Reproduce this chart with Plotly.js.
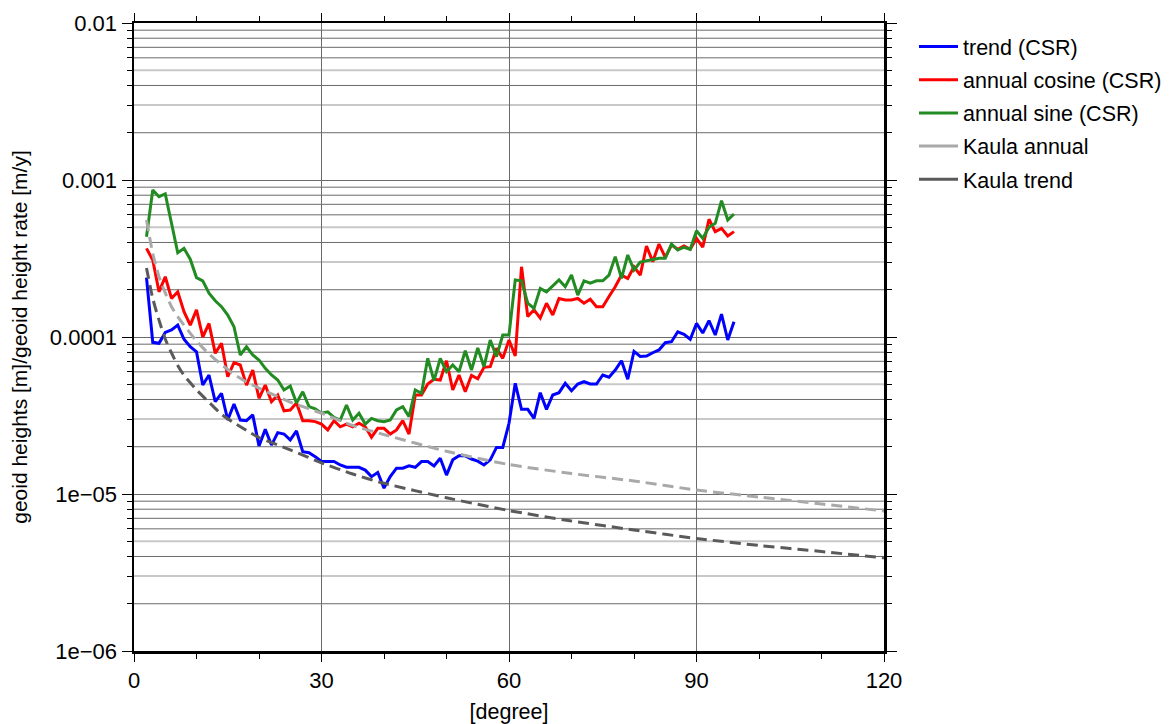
<!DOCTYPE html>
<html><head><meta charset="utf-8">
<script src="https://cdn.plot.ly/plotly-3.0.1.min.js"></script>
<style>html,body{margin:0;padding:0;background:#fff}#chart{width:1170px;height:724px}</style>
</head><body><div id="chart"></div>
<script>
const degree = [2,3,4,5,6,7,8,9,10,11,12,13,14,15,16,17,18,19,20,21,22,23,24,25,26,27,28,29,30,31,32,33,34,35,36,37,38,39,40,41,42,43,44,45,46,47,48,49,50,51,52,53,54,55,56,57,58,59,60,61,62,63,64,65,66,67,68,69,70,71,72,73,74,75,76,77,78,79,80,81,82,83,84,85,86,87,88,89,90,91,92,93,94,95,96];

const trendCSR = [2.39e-4,9.25e-5,9.12e-5,1.07e-4,1.11e-4,1.19e-4,9.67e-5,8.67e-5,8.06e-5,4.94e-5,
5.73e-5,3.87e-5,4.38e-5,2.96e-5,3.74e-5,2.96e-5,2.93e-5,3.19e-5,2.02e-5,2.58e-5,
2.05e-5,2.46e-5,2.41e-5,2.21e-5,2.52e-5,1.86e-5,1.83e-5,1.73e-5,1.61e-5,1.61e-5,
1.61e-5,1.53e-5,1.48e-5,1.48e-5,1.48e-5,1.42e-5,1.29e-5,1.37e-5,1.09e-5,1.29e-5,
1.46e-5,1.46e-5,1.51e-5,1.48e-5,1.61e-5,1.61e-5,1.51e-5,1.69e-5,1.32e-5,1.65e-5,
1.75e-5,1.75e-5,1.67e-5,1.62e-5,1.53e-5,1.65e-5,1.98e-5,1.98e-5,2.82e-5,5.07e-5,
3.46e-5,3.46e-5,3.03e-5,4.42e-5,3.46e-5,4.27e-5,4.42e-5,5.07e-5,4.55e-5,5.02e-5,
5.19e-5,5.02e-5,5.02e-5,5.73e-5,5.54e-5,6.16e-5,7.06e-5,5.38e-5,8.09e-5,7.51e-5,
7.57e-5,7.94e-5,8.27e-5,9.20e-5,9.33e-5,1.08e-4,1.04e-4,9.67e-5,1.22e-4,1.06e-4,
1.27e-4,1.03e-4,1.40e-4,9.57e-5,1.25e-4];

const annualCosineCSR = [3.67e-4,3.09e-4,1.94e-4,2.42e-4,1.76e-4,1.94e-4,1.45e-4,1.19e-4,1.49e-4,1.00e-4,
1.22e-4,7.87e-5,9.12e-5,5.59e-5,6.86e-5,6.63e-5,4.94e-5,6.16e-5,4.07e-5,4.94e-5,
3.87e-5,4.27e-5,3.39e-5,3.43e-5,3.80e-5,2.93e-5,2.93e-5,2.89e-5,2.79e-5,2.56e-5,
2.93e-5,2.68e-5,2.79e-5,2.68e-5,2.82e-5,2.68e-5,2.30e-5,2.62e-5,2.62e-5,2.41e-5,
2.56e-5,2.93e-5,2.41e-5,4.27e-5,4.27e-5,5.02e-5,5.38e-5,5.32e-5,7.06e-5,4.60e-5,
5.73e-5,4.48e-5,5.70e-5,5.42e-5,6.41e-5,6.47e-5,8.47e-5,7.31e-5,9.57e-5,7.57e-5,
2.80e-4,1.35e-4,1.49e-4,1.32e-4,1.64e-4,1.38e-4,1.76e-4,1.72e-4,1.72e-4,1.76e-4,
1.64e-4,1.74e-4,1.56e-4,1.56e-4,1.81e-4,2.09e-4,2.48e-4,2.36e-4,2.80e-4,2.48e-4,
3.80e-4,3.02e-4,3.91e-4,3.22e-4,3.85e-4,3.62e-4,3.80e-4,3.62e-4,4.25e-4,3.73e-4,
5.62e-4,4.69e-4,4.92e-4,4.40e-4,4.69e-4];

const annualSineCSR = [4.35e-4,8.64e-4,7.83e-4,8.15e-4,5.30e-4,3.44e-4,3.67e-4,3.13e-4,2.39e-4,2.28e-4,
1.90e-4,1.70e-4,1.56e-4,1.38e-4,1.16e-4,7.68e-5,8.67e-5,7.68e-5,7.14e-5,6.32e-5,
5.73e-5,5.32e-5,4.60e-5,4.87e-5,3.80e-5,4.48e-5,3.60e-5,3.49e-5,3.27e-5,3.34e-5,
3.08e-5,2.96e-5,3.69e-5,2.96e-5,3.27e-5,2.79e-5,3.03e-5,2.93e-5,2.89e-5,2.96e-5,
3.43e-5,3.60e-5,3.11e-5,4.60e-5,4.38e-5,7.31e-5,5.27e-5,7.31e-5,6.01e-5,6.63e-5,
6.01e-5,8.18e-5,6.16e-5,8.51e-5,6.47e-5,9.57e-5,7.49e-5,1.03e-4,1.03e-4,2.31e-4,
2.28e-4,1.64e-4,1.52e-4,2.04e-4,1.94e-4,2.11e-4,2.31e-4,2.09e-4,2.48e-4,1.85e-4,
2.28e-4,2.20e-4,2.28e-4,2.28e-4,2.48e-4,3.25e-4,2.36e-4,3.33e-4,2.67e-4,3.00e-4,
3.06e-4,3.13e-4,3.17e-4,3.17e-4,3.91e-4,3.58e-4,3.73e-4,3.62e-4,4.75e-4,4.25e-4,
5.00e-4,5.30e-4,7.38e-4,5.56e-4,6.07e-4];

const kaulaDegree = [2,3,4,5,6,7,8,10,12,14,16,18,20,25,30,35,40,50,60,70,80,90,100,110,120];
const kaulaAnnual = [5.56e-4,3.40e-4,2.42e-4,1.91e-4,1.56e-4,1.35e-4,1.19e-4,9.43e-5,7.79e-5,6.68e-5,5.78e-5,5.17e-5,4.73e-5,3.85e-5,3.27e-5,2.73e-5,2.39e-5,1.87e-5,1.54e-5,1.35e-5,1.21e-5,1.06e-5,9.57e-6,8.64e-6,7.79e-6];
const kaulaTrend = [2.75e-4,1.76e-4,1.28e-4,9.71e-5,7.91e-5,6.58e-5,5.70e-5,4.61e-5,3.84e-5,3.22e-5,2.84e-5,2.54e-5,2.29e-5,1.91e-5,1.58e-5,1.34e-5,1.17e-5,9.46e-6,7.84e-6,6.73e-6,5.90e-6,5.21e-6,4.70e-6,4.30e-6,3.92e-6];

const seriesNames = ['trend (CSR)','annual cosine (CSR)','annual sine (CSR)','Kaula annual','Kaula trend'];
const seriesColors = ['#0000ff','#ff0000','#228b22','#a9a9a9','#5a5a5a'];
const yTickVals = [1e-6,1e-5,1e-4,1e-3,1e-2];
const yTickText = ['1e\u221206','1e\u221205','0.0001','0.001','0.01'];
const xTickVals = [0,30,60,90,120];

const FONT = 'Liberation Sans, Arial, Helvetica, sans-serif';

// minor decade positions (2..9 x 10^e)
const minorVals = [];
const shapes = [];
for (let e = -6; e <= -3; e++) {
  for (let m = 2; m <= 9; m++) {
    const v = parseFloat((m * Math.pow(10, e)).toPrecision(3));
    minorVals.push(v);
    const light = (m === 3 || m === 5);
    shapes.push({type:'line', xref:'paper', x0:0, x1:1, yref:'y', y0:v, y1:v, layer:'below',
      line:{color: light ? '#c8c8c8' : '#6a6a6a', width: light ? 2 : 1}});
  }
}

const DASH = '11px,6px';
const line = (x, y, i, extra) => Object.assign({
  x: x, y: y, name: seriesNames[i], type:'scatter', mode:'lines', legendgroup: 'g' + i,
  line: {color: seriesColors[i], width: 3}
}, extra || {});

const traces = [
  line(degree, trendCSR, 0),
  line(degree, annualCosineCSR, 1),
  line(degree, annualSineCSR, 2),
  // legend entries for the Kaula curves (solid glyphs, as in the reference)
  line([null], [null], 3),
  line([null], [null], 4),
  line(kaulaDegree, kaulaAnnual, 3, {showlegend:false, line:{color:seriesColors[3], width:3, dash:DASH, shape:'spline', smoothing:0.6}}),
  line(kaulaDegree, kaulaTrend, 4, {showlegend:false, line:{color:seriesColors[4], width:3, dash:DASH, shape:'spline', smoothing:0.6}})
];

const layout = {
  width: 1170, height: 724,
  margin: {l:134, r:286, t:23, b:73, autoexpand:false},
  paper_bgcolor:'#fff', plot_bgcolor:'#fff',
  font: {family: FONT, size: 21, color:'#000'},
  showlegend: true,
  legend: {x:1.04, xanchor:'left', y:0.995, yanchor:'top', font:{family:FONT, size:21.5, color:'#000'},
    tracegroupgap: 2.2, itemwidth: 39, bgcolor:'rgba(0,0,0,0)', borderwidth:0},
  xaxis: {
    range:[0,120], tickmode:'array', tickvals:xTickVals, ticks:'outside', ticklen:8, tickwidth:1, tickcolor:'#000',
    showgrid:true, gridcolor:'#6a6a6a', gridwidth:1, zeroline:false,
    showline:true, linecolor:'#000', linewidth:2.5, mirror:'ticks',
    minor:{dtick:10, tick0:0, ticks:'outside', ticklen:5, tickwidth:1, tickcolor:'#000', showgrid:false},
    tickfont:{family:FONT, size:22},
    title:{text:'[degree]', font:{family:FONT, size:21.5}, standoff:13}
  },
  yaxis: {
    type:'log', range:[-6,-2], tickmode:'array', tickvals:yTickVals, ticktext:yTickText,
    ticks:'outside', ticklen:10, tickwidth:1, tickcolor:'#000',
    showgrid:true, gridcolor:'#6a6a6a', gridwidth:1, zeroline:false,
    showline:true, linecolor:'#000', linewidth:2.5, mirror:'ticks',
    minor:{tickvals:minorVals, ticks:'outside', ticklen:5, tickwidth:1, tickcolor:'#000', showgrid:false},
    tickfont:{family:FONT, size:22},
    title:{text:'geoid heights [m]/geoid height rate [m/y]', font:{family:FONT, size:21}, standoff:17}
  },
  shapes: shapes
};

Plotly.newPlot('chart', traces, layout, {staticPlot:true, displayModeBar:false});
</script>
</body></html>
